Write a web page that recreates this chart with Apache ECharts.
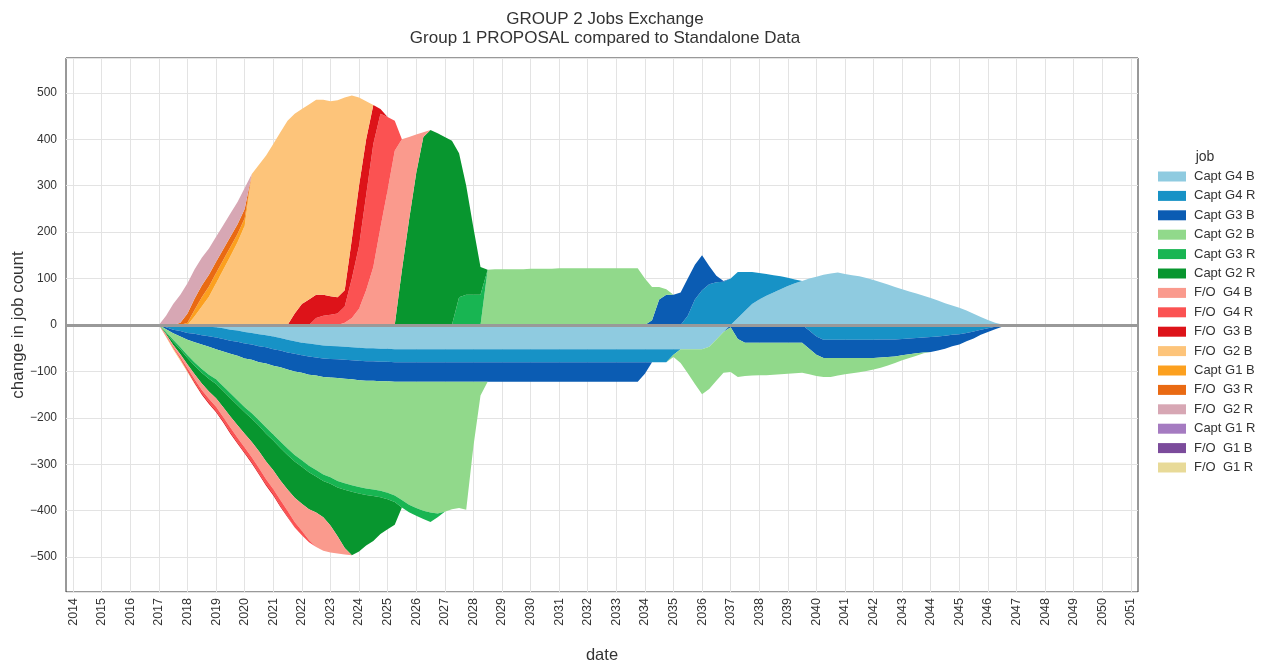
<!DOCTYPE html>
<html><head><meta charset="utf-8">
<script src="https://cdn.jsdelivr.net/npm/echarts@6/dist/echarts.min.js"></script>
<style>html,body{margin:0;padding:0;background:#fff}#chart{width:1278px;height:664px}</style>
</head><body><div id="chart"></div>
<script>
// Quarterly time grid (years) covering the whole axis
const dates = [
 2013.75, 2014,2014.25,2014.5,2014.75, 2015,2015.25,2015.5,2015.75, 2016,2016.25,2016.5,2016.75,
 2017,2017.25,2017.5,2017.75, 2018,2018.25,2018.5,2018.75, 2019,2019.25,2019.5,2019.75,
 2020,2020.25,2020.5,2020.75, 2021,2021.25,2021.5,2021.75, 2022,2022.25,2022.5,2022.75,
 2023,2023.25,2023.5,2023.75, 2024,2024.25,2024.5,2024.75, 2025,2025.25,2025.5,2025.75,
 2026,2026.25,2026.5,2026.75, 2027,2027.25,2027.5,2027.75, 2028,2028.25,2028.5,2028.75,
 2029,2029.25,2029.5,2029.75, 2030,2030.25,2030.5,2030.75, 2031,2031.25,2031.5,2031.75,
 2032,2032.25,2032.5,2032.75, 2033,2033.25,2033.5,2033.75, 2034,2034.25,2034.5,2034.75,
 2035,2035.25,2035.5,2035.75, 2036,2036.25,2036.5,2036.75, 2037,2037.25,2037.5,2037.75,
 2038,2038.25,2038.5,2038.75, 2039,2039.25,2039.5,2039.75, 2040,2040.25,2040.5,2040.75,
 2041,2041.25,2041.5,2041.75, 2042,2042.25,2042.5,2042.75, 2043,2043.25,2043.5,2043.75,
 2044,2044.25,2044.5,2044.75, 2045,2045.25,2045.5,2045.75, 2046,2046.25,2046.5,2046.75,
 2047,2047.25,2047.5,2047.75, 2048,2048.25,2048.5,2048.75, 2049,2049.25,2049.5,2049.75,
 2050,2050.25,2050.5,2050.75, 2051,2051.25];

// Job names (legend order = stacking order) and colours
const jobNames = ['Capt G4 B','Capt G4 R','Capt G3 B','Capt G2 B','Capt G3 R','Capt G2 R',
 'F/O  G4 B','F/O  G4 R','F/O  G3 B','F/O  G2 B','Capt G1 B','F/O  G3 R','F/O  G2 R',
 'Capt G1 R','F/O  G1 B','F/O  G1 R'];
const jobColors = ['#8fcbe0','#1792c6','#0b5cb3','#91d98b','#18b552','#08962f',
 '#fa9a8d','#fb5252','#dd1319','#fdc47a','#fca01f','#e96a13','#d7a7b4',
 '#a57bc1','#7b4b9b','#e8da98'];

// Positive parts: [start year, quarterly values]
const captG4B_pos = [[2037,[0,15,30,45, 55,63,70,77, 84,90,95,100, 104,108,111,113, 110,107,105,101, 97,92,87,82, 77,72,68,63, 58,53,47,42, 37,31,24,17, 11,5,1,0]]];
const captG4R_pos = [[2035.25,[0,20,55, 75,88,92,93, 100,99,84,69, 57,47,37,28, 18,8,0]]];
const captG3B_pos = [[2034,[0,10,55,65, 65,70,80,75, 75,39,14,2, 0]]];
const captG2B_pos = [[2028.25,[0,119,120, 120,120,120,120, 121,121,121,121, 122,122,122,122, 122,122,122,122, 122,122,122,122, 100,72,27,12, 0]]];
const captG3R_pos = [[2027.25,[0,60,65, 65,65,0]]];
const captG2R_pos = [[2025.25,[0,118,226, 327,405,420,413, 405,397,310,235, 145,60,0]]];
const foG4B_pos = [[2023.25,[0,5,15, 35,75,125,210, 290,375,282,179, 83,10,0]]];
const foG4R_pos = [[2022.25,[0,15,20, 22,25,35,85, 135,205,265,245, 158,65,0]]];
const foG3B_pos = [[2021.5,[0,25, 45,55,50,45, 40,35,35,85, 130,120,84,10, 0]]];
const foG2B_pos = [[2018.25,[19,40,61, 90,119,148,178, 214,325,345,365, 390,415,440,430, 420,420,420,420, 420,424,415,309, 190,82,0]]];
const captG1B_pos = [[2018,[5,14,20,22, 22,21,20,18, 16,0]]];
const foG3R_pos = [[2017.5,[0,5, 20,24,25,25, 24,23,22,21, 20,0]]];
const foG2R_pos = [[2017,[0,20,45,60, 65,63,60,57, 54,52,50,48, 45,0]]];

// Negative parts (magnitudes below zero): [start year, quarterly values]
const captG4B_neg = [[2017,[0,1,2,2, 3,3,4,4, 5,7,10,12, 15,17,20,22, 25,28,32,35, 38,40,42,44, 45,46,47,48, 49,50,50,51,
 51,52,52,52, 52,52,52,52, 52,52,52,52, 52,52,52,52, 52,52,52,52, 52,52,52,52, 52,52,52,52, 52,52,52,52, 52,52,52,52,
 52,52,52,52, 52,52,52,52, 52,47,31,15, 0]]];
const captG4R_neg = [[2017,[0,4,8,11, 14,16,18,20, 22,23,24,24, 25,25,26,26, 27,27,27,27, 27,28,28,28,
 28,28,28,28, 28,28,28,28, 28,28,28,28, 28,28,28,28, 28,28,28,28, 28,28,28,28, 28,28,28,28, 28,28,28,28,
 28,28,28,28, 28,28,28,28, 28,28,28,28, 28,28,28,28, 12,0]],
 [2039.5,[0,12, 25,32,32,32, 32,32,32,32, 32,31,31,31, 30,29,28,27, 26,25,23,21, 20,17,14,10, 7,4,2,0]]];
const captG3B_neg = [[2017,[0,4,8,12, 15,18,20,23, 25,27,28,30, 32,33,34,35, 36,36,37,38, 38,39,39,40, 40,40,41,41,
 42,42,42,42, 42,42,42,42, 42,42,42,42, 42,42,42,42, 42,42,42,42, 42,42,42,42, 42,42,42,42, 42,42,42,42,
 42,42,42,42, 42,42,42,42, 25,0]],
 [2036.75,[0, 5,30,38,38, 38,38,38,38, 38,38,38,39, 39,39,39,39, 39,39,39,39, 39,39,38,37, 35,34,33,32, 32,30,28,25, 22,18,15,11, 8,5,2,0]]];
const captG2B_neg = [[2017,[0,6,14,23, 33,44,53,60, 65,75,85,96, 105,115,125,138, 148,160,170,180, 188,196,203,210,
 215,222,225,228, 230,232,234,236, 240,245,255,265, 272,278,282,284, 280,275,272,276, 140,30,0]],
 [2034.75,[0, 5,30,52,75, 97,91,89,88, 96,82,72,71, 70,70,69,68, 67,66,65,55, 46,41,41,38, 35,33,31,28, 25,22,18,14, 11,8,5,2, 0]]];
const captG3R_neg = [[2017,[0,2,4,5, 6,7,8,9, 10,10,11,11, 11,12,12,13, 13,14,14,14, 14,14,14,14, 14,14,14,14, 14,14,14,14, 14,14,16,16, 17,18,20,8, 0]]];
const captG2R_neg = [[2017,[0,3,7,10, 14,18,23,27, 31,35,39,43, 46,50,55,60, 64,70,74,78, 80,80,78,78, 90,105,125,137, 125,109,97,79, 65,49,0]]];
const foG4B_neg = [[2017,[0,2,4,6, 8,11,14,16, 18,21,24,27, 30,33,36,38, 40,42,46,52, 58,66,74,72, 58,37,14,0]]];
const foG4R_neg = [[2017,[0,1,2,3, 5,6,7,8, 9,9,10,10, 10,10,11,11, 11,12,12,12, 10,5,0]]];
const foG3B_neg = [[2017,[0,1,1,2, 2,3,3,3, 3,3,3,3, 3,3,3,3, 3,3,2,0]]];
const foG2B_neg = [[2017,[0,2,3,3, 2,1,0]]];

const posParts = [captG4B_pos,captG4R_pos,captG3B_pos,captG2B_pos,captG3R_pos,captG2R_pos,
 foG4B_pos,foG4R_pos,foG3B_pos,foG2B_pos,captG1B_pos,foG3R_pos,foG2R_pos,null,null,null];
const negParts = [captG4B_neg,captG4R_neg,captG3B_neg,captG2B_neg,captG3R_neg,captG2R_neg,
 foG4B_neg,foG4R_neg,foG3B_neg,foG2B_neg,null,null,null,null,null,null];

// map [start, values] segments onto the time grid (zero where the job has no change)
function build(parts, sign) {
  const vals = dates.map(() => 0);
  parts.forEach(([from, v]) => {
    const i0 = dates.indexOf(from);
    v.forEach((x, k) => { vals[i0 + k] = sign * x; });
  });
  return vals;
}

function areaSeries(name, color, stack, data) {
  return {name, type:'line', stack, data, symbol:'none', showSymbol:false, smooth:false,
    lineStyle:{width:0}, itemStyle:{color}, areaStyle:{color, opacity:1},
    emphasis:{disabled:true}, silent:true, animation:false};
}

const series = [];
jobNames.forEach((n, i) => {
  if (posParts[i]) series.push(areaSeries(n, jobColors[i], 'pos', build(posParts[i], 1)));
});
jobNames.forEach((n, i) => {
  if (negParts[i]) series.push(areaSeries(n, jobColors[i], 'neg', build(negParts[i], -1)));
});
jobNames.forEach((n, i) => {
  if (!posParts[i] && !negParts[i]) series.push(areaSeries(n, jobColors[i], 'other', []));
});
// zero reference line
series.push({type:'line', data:[], z:10, silent:true,
  markLine:{silent:true, symbol:['none','none'], label:{show:false},
  lineStyle:{color:'#999', width:3, type:'solid'}, data:[{yAxis:0}], animation:false}});

const isYear = (idx, val) => Number(val) % 1 === 0;

const chart = echarts.init(document.getElementById('chart'));
chart.setOption({
  animation:false,
  textStyle:{fontFamily:'Liberation Sans'},
  grid:{left:66, right:140, top:58, bottom:72, show:true, borderColor:'#333', borderWidth:1,
    outerBoundsMode:'none', containLabel:false},
  graphic:[
    {type:'text', x:605, y:11, style:{text:'GROUP 2 Jobs Exchange', font:'17px "Liberation Sans"', fill:'#333', align:'center'}},
    {type:'text', x:605, y:30, style:{text:'Group 1 PROPOSAL compared to Standalone Data', font:'17px "Liberation Sans"', fill:'#333', align:'center'}},
    {type:'text', x:1205, y:150, style:{text:'job', font:'14px "Liberation Sans"', fill:'#333', align:'center'}}
  ],
  legend:{orient:'vertical', left:1153, top:164, icon:'rect', itemWidth:28, itemHeight:10, itemGap:4.4,
    selectedMode:false, data:jobNames.map((n,i)=>({name:n, itemStyle:{color:jobColors[i]}})),
    textStyle:{fontSize:13, color:'#333', lineHeight:15, fontFamily:'Liberation Sans', padding:[0,0,0,3]}},
  xAxis:{type:'category', data:dates.map(String), boundaryGap:false,
    name:'date', nameLocation:'middle', nameGap:55, nameMoveOverlap:false, nameTextStyle:{fontSize:16.5, color:'#333'},
    axisLine:{show:false}, axisTick:{show:false},
    axisLabel:{rotate:90, fontSize:12.5, color:'#333', margin:6, interval:isYear},
    splitLine:{show:true, interval:isYear, lineStyle:{color:'#e3e3e3', width:1}}},
  yAxis:{type:'value', min:-575, max:575, splitNumber:11, minInterval:100, maxInterval:100,
    name:'change in job count', nameLocation:'middle', nameGap:39, nameMoveOverlap:false, nameTextStyle:{fontSize:17, color:'#333'},
    axisLine:{show:false}, axisTick:{show:false},
    axisLabel:{fontSize:12, color:'#333', margin:9, showMinLabel:false, showMaxLabel:false,
      formatter:v => (v % 100 === 0) ? String(v).replace('-', '\u2212') : ''},
    splitLine:{show:true, lineStyle:{color:'#e3e3e3', width:1}}},
  series
});
</script></body></html>
